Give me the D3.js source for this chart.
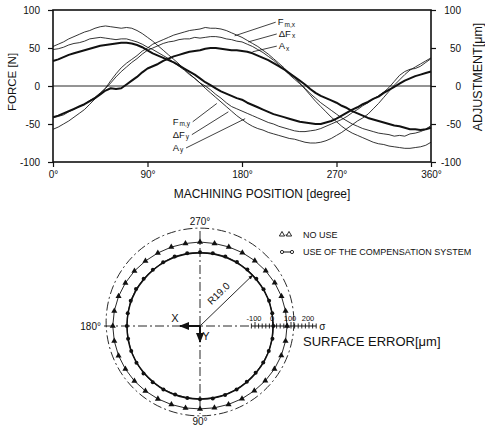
<!DOCTYPE html>
<html>
<head>
<meta charset="utf-8">
<script src="https://cdn.jsdelivr.net/npm/d3@7/dist/d3.min.js"></script>
<style>
  body { margin: 0; background: #fff; }
  svg { display: block; }
  text { font-family: "Liberation Sans", Arial, sans-serif; fill: #111; }
</style>
</head>
<body>
<svg id="chart" width="485" height="435"></svg>
<script>
// ---- Force / adjustment versus machining position (every 5 degrees) ----
const positionDeg = [0,5,10,15,20,25,30,35,40,45,50,55,60,65,70,75,80,85,90,95,100,105,110,115,120,
  125,130,135,140,145,150,155,160,165,170,175,180,185,190,195,200,205,210,215,220,225,230,235,240,
  245,250,255,260,265,270,275,280,285,290,295,300,305,310,315,320,325,330,335,340,345,350,355,360];

const fmX = [-57,-54,-50,-46,-41,-36,-31,-24,-17,-10,-3,7,16,24,30,35,40,46,50,55,58,61,64,67,69,
  71,73,74,75,77,76,76,75,73,70,67,64,60,56,52,47,42,36,30,24,17,11,4,-4,
  -12,-20,-27,-34,-41,-47,-53,-58,-62,-65,-68,-71,-74,-76,-77,-79,-80,-81,-82,-82,-81,-80,-78,-74];
const dFx = [-42,-40,-38,-34,-31,-27,-24,-19,-15,-9,-3,4,12,19,25,31,36,42,47,50,53,56,58,59,61,
  62,62,64,63,64,65,65,64,62,61,59,58,55,52,48,44,39,34,28,22,15,9,3,-3,
  -10,-16,-22,-27,-32,-37,-42,-46,-50,-53,-56,-58,-60,-62,-63,-64,-66,-65,-66,-63,-62,-60,-57,-52];
const aX  = [-41,-39,-36,-33,-30,-27,-24,-20,-16,-11,-6,-3,-4,-3,2,7,12,18,23,26,29,33,36,39,41,
  43,45,46,47,49,50,50,49,48,47,47,46,45,43,40,37,34,30,26,22,17,12,7,2,
  -4,-9,-13,-16,-19,-22,-26,-29,-33,-36,-39,-42,-44,-46,-48,-50,-52,-53,-55,-57,-57,-58,-57,-55];
const fmY = [52,55,58,62,65,68,71,73,76,78,79,78,77,76,77,76,73,69,64,59,53,47,41,35,29,
  22,16,10,4,-3,-9,-15,-21,-27,-33,-39,-44,-49,-53,-56,-58,-61,-63,-65,-67,-69,-70,-72,-74,
  -75,-75,-74,-72,-69,-65,-61,-56,-51,-46,-42,-37,-30,-23,-15,-7,1,8,15,21,25,29,33,37];
const dFy = [48,49,51,54,56,57,59,62,63,64,63,62,61,62,62,60,58,55,51,48,44,40,36,31,26,
  21,15,10,4,0,-5,-11,-16,-22,-27,-30,-33,-36,-39,-42,-45,-48,-50,-53,-55,-57,-59,-60,-60,
  -59,-58,-56,-53,-50,-47,-44,-40,-35,-31,-26,-22,-17,-13,-8,-2,6,14,19,22,23,26,31,36];
const aY  = [33,35,38,41,43,45,47,49,51,53,54,55,56,57,57,56,54,51,47,43,40,37,34,31,27,
  23,19,15,10,5,1,-3,-7,-10,-13,-16,-18,-22,-25,-28,-31,-34,-37,-39,-41,-43,-45,-47,-48,
  -49,-50,-50,-48,-46,-43,-39,-35,-31,-28,-24,-21,-17,-14,-9,-5,-1,3,7,10,13,15,17,19];

const forceTicks = [-100,-50,0,50,100];
const positionTicks = [0,90,180,270,360];

// curve labels: [main, subscript], label anchor (deg, value), pointed curve (deg, value)
const xLabels = [["F","m,x"],["ΔF","x"],["A","x"]];
const xLabelAt = [[214,80],[215,64.5],[215,48.5]];
const xLeaderTo = [[173,66],[186,58],[190,45]];
const yLabels = [["F","m,y"],["ΔF","y"],["A","y"]];
const yLabelAt = [[114,-51],[114,-68],[114,-85.5]];
const yLeaderTo = [[156,-23],[167,-34],[183,-43]];

// ---- Polar surface error ----
const angleDeg = [0,10,20,30,40,50,60,70,80,90,100,110,120,130,140,150,160,170,
                  180,190,200,210,220,230,240,250,260,270,280,290,300,310,320,330,340,350];
const errorNoUse = [78,77,75,72,68,64,61,58,56,55,57,59,62,66,70,73,76,78,
                    79,78,76,73,70,66,63,61,60,61,60,62,65,68,71,74,76,77];
const errorComp  = [2,3,1,0,-2,-1,1,2,3,2,0,-1,1,3,4,2,1,0,
                    1,2,4,5,3,2,4,6,5,4,5,6,5,4,3,2,3,2];
const errorTicks = [-120,-100,-80,-60,-40,-20,0,20,40,60,80,100,120,140,160,180,200,220,240];
const errorTickLabels = [-100,0,100,200];
const outerRingError = 116;
const legendLabels = ["NO USE","USE OF THE COMPENSATION SYSTEM"];

const svg = d3.select("#chart");
const ink = "#111";

// ===== upper panel =====
const x = d3.scaleLinear().domain([0,360]).range([53,431]);
const y = d3.scaleLinear().domain([-100,100]).range([162,10]);

const plotG = svg.append("g");

// zero line
plotG.append("line")
  .attr("x1", x(0)).attr("x2", x(360)).attr("y1", y(0)).attr("y2", y(0))
  .attr("stroke", ink).attr("stroke-width", 0.9);

const line = d3.line().x(d => x(d[0])).y(d => y(d[1]));
const series = [
  [fmX, 0.85], [dFx, 0.85], [aX, 2.0],
  [fmY, 0.85], [dFy, 0.85], [aY, 2.0]
];
series.forEach(([vals, w]) => {
  plotG.append("path")
    .attr("d", line(positionDeg.map((p, i) => [p, vals[i]])))
    .attr("fill", "none").attr("stroke", ink)
    .attr("stroke-width", w).attr("stroke-linejoin", "round");
});

// frame
plotG.append("rect")
  .attr("x", x(0)).attr("y", y(100))
  .attr("width", x(360) - x(0)).attr("height", y(-100) - y(100))
  .attr("fill", "none").attr("stroke", ink).attr("stroke-width", 1.6);

const axisFont = g => g.selectAll("text").attr("font-size", 10).attr("fill", ink);
const axisClean = g => { g.select(".domain").remove(); g.selectAll("line").attr("stroke", ink).attr("stroke-width", 1.2); };

plotG.append("g").attr("transform", `translate(${x(0)},0)`)
  .call(d3.axisLeft(y).tickValues(forceTicks).tickSize(5).tickPadding(8).tickFormat(d => d))
  .call(axisClean).call(axisFont);

plotG.append("g").attr("transform", `translate(${x(360)},0)`)
  .call(d3.axisRight(y).tickValues(forceTicks).tickSize(5).tickPadding(6).tickFormat(d => d))
  .call(axisClean).call(axisFont)
  .call(g => g.selectAll("text").attr("text-anchor", "end").attr("x", 30));

plotG.append("g").attr("transform", `translate(0,${y(-100)})`)
  .call(d3.axisBottom(x).tickValues(positionTicks).tickSize(5).tickPadding(4).tickFormat(d => d + "°"))
  .call(axisClean).call(axisFont);

// axis titles
plotG.append("text").attr("transform", "translate(16,82) rotate(-90)")
  .attr("text-anchor", "middle").attr("font-size", 11.5).text("FORCE [N]");
plotG.append("text").attr("transform", "translate(482,77) rotate(-90)")
  .attr("text-anchor", "middle").attr("font-size", 12.5).text("ADJUSTMENT[μm]");
plotG.append("text").attr("x", 262).attr("y", 198)
  .attr("text-anchor", "middle").attr("font-size", 12).text("MACHINING  POSITION [degree]");

// curve labels with leader lines
function drawLabels(labels, at, to, leaderFromRight) {
  labels.forEach((lab, i) => {
    const lx = x(at[i][0]), ly = y(at[i][1]);
    const t = plotG.append("text").attr("x", lx).attr("y", ly).attr("font-size", 9.5);
    t.append("tspan").text(lab[0]);
    t.append("tspan").attr("font-size", 6.5).attr("dy", 1.5).attr("dx", 1).text(lab[1]);
    const w = t.node().getBBox().width;
    const sx = leaderFromRight ? lx + w + 2 : lx - 2;
    plotG.append("line")
      .attr("x1", sx).attr("y1", ly - 3)
      .attr("x2", x(to[i][0])).attr("y2", y(to[i][1]))
      .attr("stroke", ink).attr("stroke-width", 0.8);
  });
}
drawLabels(xLabels, xLabelAt, xLeaderTo, false);
drawLabels(yLabels, yLabelAt, yLeaderTo, true);

// ===== lower panel: polar surface error =====
const cx = 200, cy = 326;
const r = d3.scaleLinear().domain([0,100]).range([73,91]);
const bot = svg.append("g");
const dashDot = "9,3,2,3";

// reference circles (outer chain ring sits slightly above the profile centre)
bot.append("circle").attr("cx", cx).attr("cy", cy - 4).attr("r", r(outerRingError))
  .attr("fill", "none").attr("stroke", ink).attr("stroke-width", 0.9).attr("stroke-dasharray", dashDot);
bot.append("circle").attr("cx", cx).attr("cy", cy).attr("r", r(0))
  .attr("fill", "none").attr("stroke", ink).attr("stroke-width", 1.5);

// centre lines
bot.append("line").attr("x1", cx).attr("x2", cx).attr("y1", 231).attr("y2", 414)
  .attr("stroke", ink).attr("stroke-width", 0.9).attr("stroke-dasharray", dashDot);
bot.append("line").attr("x1", 104).attr("x2", cx + r(-120)).attr("y1", cy).attr("y2", cy)
  .attr("stroke", ink).attr("stroke-width", 0.9).attr("stroke-dasharray", dashDot);

// polar profiles
const pt = (a, e) => {
  const t = a * Math.PI / 180;
  return [cx + r(e) * Math.cos(t), cy + r(e) * Math.sin(t)];
};
const closed = d3.line().curve(d3.curveLinearClosed);
const noUsePts = angleDeg.map((a, i) => pt(a, errorNoUse[i]));
const compPts = angleDeg.map((a, i) => pt(a, errorComp[i]));

bot.append("path").attr("d", closed(noUsePts)).attr("fill", "none")
  .attr("stroke", ink).attr("stroke-width", 0.9);
bot.append("path").attr("d", closed(compPts)).attr("fill", "none")
  .attr("stroke", ink).attr("stroke-width", 0.9);

const tri = d3.symbol().type(d3.symbolTriangle).size(16);
bot.selectAll(".tri").data(noUsePts).join("path")
  .attr("transform", d => `translate(${d[0]},${d[1]})`)
  .attr("d", tri()).attr("fill", ink);
bot.selectAll(".dot").data(compPts).join("circle")
  .attr("cx", d => d[0]).attr("cy", d => d[1]).attr("r", 2).attr("fill", ink);

// error scale along the x axis
const es = d3.scaleLinear().domain([0,100]).range([cx + r(0), cx + r(100)]);
bot.append("line").attr("x1", es(-120)).attr("x2", es(240)).attr("y1", cy).attr("y2", cy)
  .attr("stroke", ink).attr("stroke-width", 1);
bot.selectAll(".etick").data(errorTicks).join("line")
  .attr("x1", d => es(d)).attr("x2", d => es(d))
  .attr("y1", d => errorTickLabels.includes(d) ? cy - 4 : cy - 2.5)
  .attr("y2", cy + 2.5)
  .attr("stroke", ink).attr("stroke-width", 0.9);
bot.selectAll(".elab").data(errorTickLabels).join("text")
  .attr("x", d => es(d) - 1).attr("y", cy - 5)
  .attr("text-anchor", "middle").attr("font-size", 7.5).text(d => d);
bot.append("text").attr("x", es(240) + 3).attr("y", cy + 4).attr("font-size", 10).text("σ");
bot.append("text").attr("x", 303).attr("y", 346).attr("font-size", 13).text("SURFACE ERROR[μm]");

// angle labels
bot.append("text").attr("x", cx).attr("y", 225).attr("text-anchor", "middle").attr("font-size", 10).text("270°");
bot.append("text").attr("x", cx).attr("y", 425).attr("text-anchor", "middle").attr("font-size", 10).text("90°");
bot.append("text").attr("x", 101).attr("y", 330).attr("text-anchor", "end").attr("font-size", 10).text("180°");

// X / Y direction arrows
const defs = svg.append("defs");
defs.append("marker").attr("id", "arr").attr("viewBox", "0 0 10 10")
  .attr("refX", 9).attr("refY", 5).attr("markerWidth", 5).attr("markerHeight", 5)
  .attr("orient", "auto").append("path").attr("d", "M0,1 L10,5 L0,9 Z").attr("fill", ink);
bot.append("line").attr("x1", cx).attr("y1", cy).attr("x2", 180).attr("y2", cy)
  .attr("stroke", ink).attr("stroke-width", 2).attr("marker-end", "url(#arr)");
bot.append("line").attr("x1", cx).attr("y1", cy).attr("x2", cx).attr("y2", 342)
  .attr("stroke", ink).attr("stroke-width", 2).attr("marker-end", "url(#arr)");
bot.append("text").attr("x", 175).attr("y", 322).attr("text-anchor", "middle").attr("font-size", 11).text("X");
bot.append("text").attr("x", 206).attr("y", 340).attr("text-anchor", "middle").attr("font-size", 11).text("Y");

// radius annotation
const rEnd = pt(-44, 0);
bot.append("line").attr("x1", cx).attr("y1", cy).attr("x2", rEnd[0]).attr("y2", rEnd[1])
  .attr("stroke", ink).attr("stroke-width", 0.9).attr("marker-end", "url(#arr)");
bot.append("text").attr("transform", "translate(221,296) rotate(-44)")
  .attr("text-anchor", "middle").attr("font-size", 10).text("R19.0");

// legend
const lg = svg.append("g");
lg.append("line").attr("x1", 282).attr("x2", 289).attr("y1", 235).attr("y2", 235)
  .attr("stroke", ink).attr("stroke-width", 0.9).attr("stroke-dasharray", "2,1.5");
[282, 289].forEach(px => lg.append("path").attr("transform", `translate(${px},234.5)`)
  .attr("d", d3.symbol().type(d3.symbolTriangle).size(12)()).attr("fill", "#fff").attr("stroke", ink).attr("stroke-width", 0.9));
lg.append("line").attr("x1", 282).attr("x2", 292).attr("y1", 252).attr("y2", 252)
  .attr("stroke", ink).attr("stroke-width", 1);
[282, 292].forEach(px => lg.append("circle").attr("cx", px).attr("cy", 252).attr("r", 1.6)
  .attr("fill", "#fff").attr("stroke", ink).attr("stroke-width", 0.9));
lg.append("text").attr("x", 303).attr("y", 238).attr("font-size", 9).text(legendLabels[0]);
lg.append("text").attr("x", 303).attr("y", 255).attr("font-size", 9).text(legendLabels[1]);
</script>
</body>
</html>
